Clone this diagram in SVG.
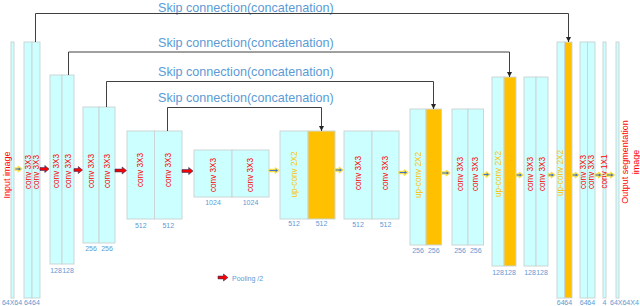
<svg xmlns="http://www.w3.org/2000/svg" width="640" height="306" viewBox="0 0 640 306">
<defs>
<marker id="ah" viewBox="0 0 8 8" refX="8" refY="4" markerWidth="5" markerHeight="5" orient="auto" markerUnits="userSpaceOnUse">
<path d="M0,0 L8,4 L0,8 z" fill="#262626"/>
</marker>
<style>
.c{fill:#CCFFFF;stroke:#CBD5D5;stroke-width:1}
.o{fill:#FFC000;stroke:#CBD5D5;stroke-width:1}
.cv{font-family:"Liberation Sans",Arial,sans-serif;font-size:8.2px;fill:#FF0000;text-anchor:middle;dominant-baseline:central}
.uc{font-family:"Liberation Sans",Arial,sans-serif;font-size:8.2px;fill:#FFC000;text-anchor:middle;dominant-baseline:central}
.n{font-family:"Liberation Sans",Arial,sans-serif;font-size:7px;fill:#5B9BD5;text-anchor:middle}
.sk{font-family:"Liberation Sans",Arial,sans-serif;font-size:12.6px;fill:#5B9BD5}
.io{font-family:"Liberation Sans",Arial,sans-serif;font-size:9px;fill:#FF0000;text-anchor:middle;dominant-baseline:central}
.ln{fill:none;stroke:#404040;stroke-width:1;marker-end:url(#ah)}
.ba{fill:#4472C4;stroke:#F5E04A;stroke-width:1.1;stroke-linejoin:round}
.ra{fill:#FF0000;stroke:#1F3864;stroke-width:0.6}
</style>
</defs>
<rect width="640" height="306" fill="#FFFFFF"/>

<g id="input">
<rect class="c" x="11" y="42" width="3" height="256"/>
<text class="io" transform="translate(7,175) rotate(-90)">Input image</text>
<text class="n" x="12" y="304.5">64X64</text>
</g>
<g id="b1">
<rect class="c" x="24" y="42" width="8" height="256"/>
<rect class="c" x="32" y="42" width="8" height="256"/>
<text class="cv" transform="translate(28,172) rotate(-90)">conv 3X3</text>
<text class="cv" transform="translate(36,172) rotate(-90)">conv 3X3</text>
<text class="n" x="28" y="304.5">64</text><text class="n" x="36" y="304.5">64</text>
</g>
<g id="b2">
<rect class="c" x="50" y="75" width="12" height="189"/>
<rect class="c" x="62" y="75" width="12" height="189"/>
<text class="cv" transform="translate(56,171) rotate(-90)">conv 3X3</text>
<text class="cv" transform="translate(68,171) rotate(-90)">conv 3X3</text>
<text class="n" x="56" y="273">128</text><text class="n" x="68" y="273">128</text>
</g>
<g id="b3">
<rect class="c" x="83" y="107" width="16" height="136"/>
<rect class="c" x="99" y="107" width="16" height="136"/>
<text class="cv" transform="translate(91,171) rotate(-90)">conv 3X3</text>
<text class="cv" transform="translate(107,171) rotate(-90)">conv 3X3</text>
<text class="n" x="91" y="251">256</text><text class="n" x="107" y="251">256</text>
</g>
<g id="b4">
<rect class="c" x="127" y="131" width="27.5" height="88"/>
<rect class="c" x="154.5" y="131" width="27.5" height="88"/>
<text class="cv" transform="translate(140.75,170) rotate(-90)">conv 3X3</text>
<text class="cv" transform="translate(168.25,170) rotate(-90)">conv 3X3</text>
<text class="n" x="140.75" y="228">512</text><text class="n" x="168.25" y="228">512</text>
</g>
<g id="b5">
<rect class="c" x="194" y="150" width="38" height="47"/>
<rect class="c" x="232" y="150" width="37" height="47"/>
<text class="cv" transform="translate(213,175) rotate(-90)">conv 3X3</text>
<text class="cv" transform="translate(250.5,175) rotate(-90)">conv 3X3</text>
<text class="n" x="213" y="205">1024</text><text class="n" x="250.5" y="205">1024</text>
</g>
<g id="b6">
<rect class="c" x="280" y="131" width="28" height="88"/>
<rect class="o" x="308" y="131" width="27" height="88"/>
<text class="uc" transform="translate(294,174.5) rotate(-90)">up-conv 2X2</text>
<text class="n" x="294" y="226">512</text><text class="n" x="321.5" y="226">512</text>
</g>
<g id="b7">
<rect class="c" x="344" y="131" width="28" height="88"/>
<rect class="c" x="372" y="131" width="27" height="88"/>
<text class="cv" transform="translate(358,173) rotate(-90)">conv 3X3</text>
<text class="cv" transform="translate(385.5,173) rotate(-90)">conv 3X3</text>
<text class="n" x="358" y="227">512</text><text class="n" x="385.5" y="227">512</text>
</g>
<g id="b8">
<rect class="c" x="410" y="109" width="16" height="136"/>
<rect class="o" x="426" y="109" width="15.5" height="136"/>
<text class="uc" transform="translate(418,175) rotate(-90)">up-conv 2X2</text>
<text class="n" x="418" y="253">256</text><text class="n" x="433.75" y="253">256</text>
</g>
<g id="b9">
<rect class="c" x="452" y="109" width="16" height="136"/>
<rect class="c" x="468" y="109" width="15.5" height="136"/>
<text class="cv" transform="translate(460,174) rotate(-90)">conv 3X3</text>
<text class="cv" transform="translate(475.75,174) rotate(-90)">conv 3X3</text>
<text class="n" x="460" y="253">256</text><text class="n" x="475.75" y="253">256</text>
</g>
<g id="b10">
<rect class="c" x="492" y="77" width="12" height="189"/>
<rect class="o" x="504" y="77" width="12" height="189"/>
<text class="uc" transform="translate(498,174) rotate(-90)">up-conv 2X2</text>
<text class="n" x="498" y="274.5">128</text><text class="n" x="510" y="274.5">128</text>
</g>
<g id="b11">
<rect class="c" x="524" y="77" width="12" height="189"/>
<rect class="c" x="536" y="77" width="12" height="189"/>
<text class="cv" transform="translate(530,174) rotate(-90)">conv 3X3</text>
<text class="cv" transform="translate(542,174) rotate(-90)">conv 3X3</text>
<text class="n" x="530" y="274.5">128</text><text class="n" x="542" y="274.5">128</text>
</g>
<g id="b12">
<rect class="c" x="557" y="42" width="7.5" height="256"/>
<rect class="o" x="564.5" y="42" width="7.5" height="256"/>
<text class="uc" transform="translate(560.75,173) rotate(-90)">up-conv 2X2</text>
<text class="n" x="560.75" y="304.5">64</text><text class="n" x="568.25" y="304.5">64</text>
</g>
<g id="b13">
<rect class="c" x="580" y="42" width="7.5" height="256"/>
<rect class="c" x="587.5" y="42" width="7.5" height="256"/>
<text class="cv" transform="translate(583.75,172) rotate(-90)">conv 3X3</text>
<text class="cv" transform="translate(591.25,172) rotate(-90)">conv 3X3</text>
<text class="n" x="583.75" y="304.5">64</text><text class="n" x="591.25" y="304.5">64</text>
</g>
<g id="b14">
<rect class="c" x="603" y="42" width="3" height="256"/>
<text class="cv" transform="translate(604.5,171.5) rotate(-90)">conv 1X1</text>
<text class="n" x="604.5" y="304.5">4</text>
</g>
<g id="output">
<rect class="c" x="616" y="42" width="3" height="256"/>
<text class="io" transform="translate(625,162) rotate(-90)">Output segmentation</text>
<text class="io" transform="translate(636,162) rotate(-90)">image</text>
<text class="n" x="610" y="304.5" style="text-anchor:start">64X64X4</text>
</g>

<g id="labels">
<text class="sk" x="158" y="11.5">Skip connection(concatenation)</text>
<text class="sk" x="158" y="47">Skip connection(concatenation)</text>
<text class="sk" x="158" y="76">Skip connection(concatenation)</text>
<text class="sk" x="158" y="102">Skip connection(concatenation)</text>
</g>

<g id="connectors">
<path class="ln" d="M35.5,42 V13.5 H568.5 V42"/>
<path class="ln" d="M68.5,75 V52 H509.5 V77"/>
<path class="ln" d="M106.5,107 V81.5 H433.5 V109"/>
<path class="ln" d="M167.5,131 V107.5 H321.5 V131"/>
<polygon class="ba" points="15,167.9 18.2,167.9 18.2,166.2 22,169 18.2,171.8 18.2,170.1 15,170.1"/>
<polygon class="ra" points="40,167.6 44.8,167.6 44.8,165.5 49,169 44.8,172.5 44.8,170.4 40,170.4"/>
<polygon class="ra" points="74,168.6 78.3,168.6 78.3,166.5 82.5,170 78.3,173.5 78.3,171.4 74,171.4"/>
<polygon class="ra" points="115,169.1 122.2,169.1 122.2,167 126.5,170.5 122.2,174 122.2,171.9 115,171.9"/>
<polygon class="ra" points="182,169.6 188.7,169.6 188.7,167.5 193,171 188.7,174.5 188.7,172.4 182,172.4"/>
<polygon class="ba" points="269,169.4 275.2,169.4 275.2,167.7 279,170.5 275.2,173.3 275.2,171.6 269,171.6"/>
<polygon class="ba" points="335,168.9 339.2,168.9 339.2,167.2 343,170 339.2,172.8 339.2,171.1 335,171.1"/>
<polygon class="ba" points="399,171.4 404.2,171.4 404.2,169.7 408,172.5 404.2,175.3 404.2,173.6 399,173.6"/>
<polygon class="ba" points="441.5,171.9 446.2,171.9 446.2,170.2 450,173 446.2,175.8 446.2,174.1 441.5,174.1"/>
<polygon class="ba" points="483,173.4 486.2,173.4 486.2,171.7 490,174.5 486.2,177.3 486.2,175.6 483,175.6"/>
<polygon class="ba" points="516,173.9 519.2,173.9 519.2,172.2 523,175 519.2,177.8 519.2,176.1 516,176.1"/>
<polygon class="ba" points="548,173.9 551.2,173.9 551.2,172.2 555,175 551.2,177.8 551.2,176.1 548,176.1"/>
<polygon class="ba" points="572,173.9 575.2,173.9 575.2,172.2 579,175 575.2,177.8 575.2,176.1 572,176.1"/>
<polygon class="ba" points="595,173.9 598.4,173.9 598.4,172.2 602.2,175 598.4,177.8 598.4,176.1 595,176.1"/>
<polygon class="ba" points="606.5,173.9 610.6,173.9 610.6,172.2 614.4,175 610.6,177.8 610.6,176.1 606.5,176.1"/>
</g>

<g id="legend">
<polygon class="ra" points="218,276.1 223.5,276.1 223.5,274 228,277.5 223.5,281 223.5,278.9 218,278.9"/>
<text class="n" x="232" y="280.5" style="text-anchor:start">Pooling /2</text>
</g>
</svg>
